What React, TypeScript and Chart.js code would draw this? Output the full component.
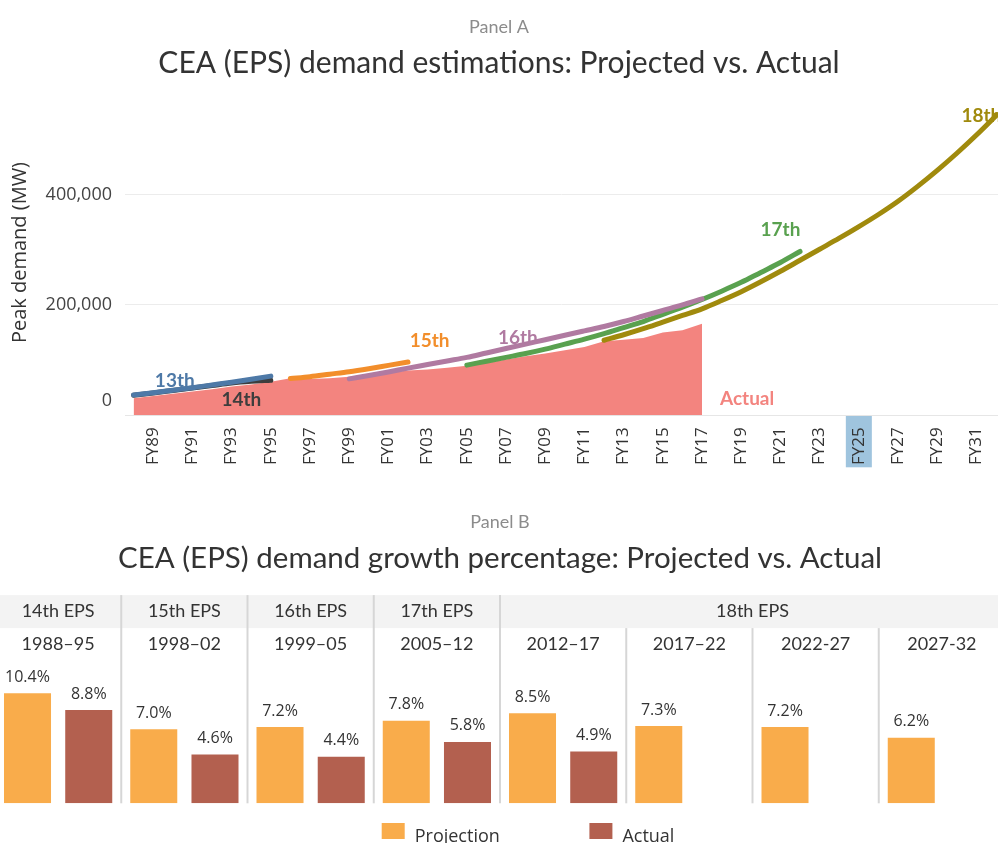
import React, { useEffect, useRef } from 'react';
import { Chart, registerables } from 'chart.js';

Chart.register(...registerables);

// ---------------- Panel A data (peak demand, MW) ----------------
const actualStartYear = 1988;
const actualPeakMW = [
  31000, 35000, 39000, 43000, 47000, 52000, 56000, 61000, 67000, 66000,
  67000, 70000, 73000, 77000, 81000, 83000, 86000, 90000, 95000, 101000,
  107000, 112000, 118000, 124000, 134000, 137000, 140000, 150000, 154000, 166000,
];
const eps13StartYear = 1988;
const eps13MW = [37000, 41000, 45500, 50000, 55000, 60000, 65500, 71000];
const eps14StartYear = 1988;
const eps14MW = [36500, 40500, 45000, 49500, 54000, 58500, 61500, 63500];
const eps15StartYear = 1996;
const eps15MW = [66500, 70000, 74500, 79000, 84500, 90500, 96500];
const eps16StartYear = 1999;
const eps16MW = [
  66000, 72000, 78500, 85500, 92000, 98500, 105000, 113000, 121000, 129000,
  137000, 145000, 153000, 161000, 170000, 180000, 190000, 200000, 211000,
];
const eps17StartYear = 2005;
const eps17MW = [
  91000, 98000, 105000, 112000, 120000, 129000, 138000, 148000, 159000, 170000,
  183000, 196000, 210000, 225000, 241000, 259000, 277000, 297000,
];
const eps18StartYear = 2012;
const eps18MW = [
  136000, 146000, 157000, 169000, 181000, 193000, 208000, 224000, 242000, 261000,
  281000, 301000, 321000, 342000, 364000, 388000, 415000, 444000, 475000, 508000, 543000,
];

const xTickYears = [
  1989, 1991, 1993, 1995, 1997, 1999, 2001, 2003, 2005, 2007, 2009,
  2011, 2013, 2015, 2017, 2019, 2021, 2023, 2025, 2027, 2029, 2031,
];
const highlightedYear = 2025;
const yTickValues = [0, 200000, 400000];

const seriesLabels = ['13th', '14th', '15th', '16th', '17th', '18th', 'Actual'];
const seriesLabelYears = [1990.1, 1993.5, 2003.1, 2007.6, 2021.0, 2031.25, 2019.3];
const seriesLabelValues = [62000, 27500, 134000, 140000, 336000, 543000, 29000];
const seriesColors = ['#4e79a7', '#3d3d3d', '#f28e2b', '#b07aa1', '#59a14f', '#a08a0d', '#f3847f'];

// ---------------- Panel B data (growth %, CAGR) ----------------
const periods = ['1988–95', '1998–02', '1999–05', '2005–12', '2012–17', '2017–22', '2022-27', '2027-32'];
const epsGroups = ['14th EPS', '15th EPS', '16th EPS', '17th EPS', '18th EPS'];
const epsGroupSpans = [1, 1, 1, 1, 4];
const projectedGrowth = [10.4, 7.0, 7.2, 7.8, 8.5, 7.3, 7.2, 6.2];
const actualGrowth: (number | null)[] = [8.8, 4.6, 4.4, 5.8, 4.9, null, null, null];

const toPoints = (start: number, vals: number[]) => vals.map((v, i) => ({ x: start + i, y: v }));

const panelAPlugin = {
  id: 'panelAExtras',
  beforeDraw(chart: any) {
    const { ctx } = chart;
    const x = chart.scales.x;
    const px = x.getPixelForValue(highlightedYear);
    ctx.save();
    ctx.fillStyle = '#9fc4de';
    ctx.fillRect(px - 13, x.top, 26, 52);
    ctx.restore();
  },
  afterDatasetsDraw(chart: any) {
    const { ctx } = chart;
    const x = chart.scales.x;
    const y = chart.scales.y;
    ctx.save();
    ctx.font = 'bold 19px Lato';
    ctx.textAlign = 'center';
    ctx.textBaseline = 'middle';
    seriesLabels.forEach((t, i) => {
      ctx.fillStyle = seriesColors[i];
      ctx.fillText(t, x.getPixelForValue(seriesLabelYears[i]), y.getPixelForValue(seriesLabelValues[i]));
    });
    ctx.restore();
  },
  afterDraw(chart: any) {
    const { ctx, chartArea } = chart;
    const y = chart.scales.y;
    ctx.save();
    ctx.font = '18px "Open Sans"';
    ctx.fillStyle = '#444';
    ctx.textAlign = 'right';
    ctx.textBaseline = 'middle';
    yTickValues.forEach((v) => {
      const py = Math.min(y.getPixelForValue(v), chartArea.bottom - 14);
      ctx.fillText(v.toLocaleString('en-US'), chartArea.left - 13, py);
    });
    ctx.restore();
  },
};

const panelBPlugin = {
  id: 'panelBExtras',
  beforeDraw(chart: any) {
    const { ctx, chartArea, width } = chart;
    const x = chart.scales.x;
    const n = periods.length;
    const boundary = (i: number) => {
      if (i <= 0) return x.left;
      if (i >= n) return x.right;
      return (x.getPixelForValue(i - 1) + x.getPixelForValue(i)) / 2;
    };
    const rowH = 33;
    ctx.save();
    ctx.fillStyle = '#f3f3f3';
    ctx.fillRect(0, x.top, width, rowH);
    ctx.strokeStyle = '#d6d6d6';
    ctx.lineWidth = 2;
    ctx.font = '18px Lato';
    ctx.fillStyle = '#333';
    ctx.textAlign = 'center';
    ctx.textBaseline = 'middle';
    let col = 0;
    epsGroups.forEach((g, gi) => {
      const span = epsGroupSpans[gi];
      const l = boundary(col);
      const r = boundary(col + span);
      ctx.fillText(g, (l + r) / 2, x.top + rowH / 2);
      if (col > 0) {
        ctx.beginPath();
        ctx.moveTo(l, x.top);
        ctx.lineTo(l, chartArea.bottom);
        ctx.stroke();
      }
      for (let k = 1; k < span; k++) {
        const bx = boundary(col + k);
        ctx.beginPath();
        ctx.moveTo(bx, x.top + rowH);
        ctx.lineTo(bx, chartArea.bottom);
        ctx.stroke();
      }
      col += span;
    });
    ctx.restore();
  },
  afterDatasetsDraw(chart: any) {
    const { ctx } = chart;
    ctx.save();
    ctx.font = '16px "Open Sans"';
    ctx.fillStyle = '#333';
    ctx.textAlign = 'center';
    ctx.textBaseline = 'middle';
    chart.data.datasets.forEach((ds: any, di: number) => {
      const meta = chart.getDatasetMeta(di);
      meta.data.forEach((el: any, i: number) => {
        const v = ds.data[i];
        if (v === null || v === undefined) return;
        ctx.fillText(v.toFixed(1) + '%', el.x, el.y - 16);
      });
    });
    ctx.restore();
  },
  afterDraw(chart: any) {
    const { ctx } = chart;
    ctx.save();
    ctx.font = '18px "Open Sans"';
    ctx.textAlign = 'left';
    ctx.textBaseline = 'alphabetic';
    let lx = 386.7;
    const base = 342;
    chart.data.datasets.forEach((ds: any) => {
      ctx.fillStyle = ds.backgroundColor;
      ctx.fillRect(lx, 323, 23, 16);
      ctx.fillStyle = '#333';
      ctx.fillText(ds.label, lx + 33, base);
      lx += 33 + ctx.measureText(ds.label).width + 89.6;
    });
    ctx.restore();
  },
};

function PanelA() {
  const ref = useRef<HTMLCanvasElement | null>(null);
  useEffect(() => {
    if (!ref.current) return;
    const line = (label: string, start: number, vals: number[], color: string, order: number) => ({
      label,
      data: toPoints(start, vals),
      borderColor: color,
      backgroundColor: color,
      borderWidth: 5,
      borderCapStyle: 'round',
      borderJoinStyle: 'round',
      pointRadius: 0,
      fill: false,
      tension: 0.3,
      cubicInterpolationMode: 'monotone',
      order,
    });
    const chart = new Chart(ref.current, {
      type: 'line',
      data: {
        datasets: [
          line('13th', eps13StartYear, eps13MW, seriesColors[0], 1),
          line('14th', eps14StartYear, eps14MW, seriesColors[1], 2),
          line('15th', eps15StartYear, eps15MW, seriesColors[2], 1),
          line('16th', eps16StartYear, eps16MW, seriesColors[3], 2),
          line('17th', eps17StartYear, eps17MW, seriesColors[4], 3),
          line('18th', eps18StartYear, eps18MW, seriesColors[5], 4),
          {
            label: 'Actual',
            data: toPoints(actualStartYear, actualPeakMW),
            borderWidth: 0,
            borderColor: 'rgba(0,0,0,0)',
            backgroundColor: '#f3847f',
            pointRadius: 0,
            fill: 'origin',
            tension: 0,
            order: 10,
          },
        ] as any,
      },
      options: {
        responsive: false,
        animation: false,
        plugins: {
          legend: { display: false },
          tooltip: { enabled: false },
          title: {
            display: true,
            text: 'Panel A',
            color: '#8c8c8c',
            font: { family: 'Lato', size: 18, weight: 'normal' },
            padding: { top: 16.2, bottom: 0 },
          },
          subtitle: {
            display: true,
            text: 'CEA (EPS) demand estimations: Projected vs. Actual',
            color: '#333',
            font: { family: 'Lato', size: 30, weight: 'normal' },
            padding: { top: 7.2, bottom: 8.8 },
          },
        },
        scales: {
          x: {
            type: 'linear',
            min: 1987.56,
            max: 2032.1,
            afterBuildTicks: (s: any) => {
              s.ticks = xTickYears.map((v) => ({ value: v }));
            },
            afterFit: (s: any) => {
              s.height = 84.7;
              s.paddingLeft = 0;
              s.paddingRight = 0;
            },
            ticks: {
              autoSkip: false,
              minRotation: 90,
              maxRotation: 90,
              padding: 12,
              color: '#333',
              font: { family: 'Open Sans', size: 17 },
              callback: (v: any) => 'FY' + String(Number(v) % 100).padStart(2, '0'),
            },
            grid: { display: false, drawTicks: false },
            border: { display: true, color: '#e6e6e6', width: 1 },
          },
          y: {
            min: 0,
            max: 590000,
            afterBuildTicks: (s: any) => {
              s.ticks = yTickValues.map((v) => ({ value: v }));
            },
            afterFit: (s: any) => {
              s.width = 125;
              s.paddingTop = 0;
              s.paddingBottom = 0;
            },
            ticks: { display: false },
            grid: { color: '#ececec', drawTicks: false },
            border: { display: false },
            title: {
              display: true,
              text: 'Peak demand (MW)',
              color: '#333',
              font: { family: 'Open Sans', size: 20 },
              padding: { top: 8, bottom: 0 },
            },
          },
        },
      } as any,
      plugins: [panelAPlugin],
    });
    return () => chart.destroy();
  }, []);
  return <canvas ref={ref} width={998} height={500} style={{ position: 'absolute', left: 0, top: 0 }} />;
}

function PanelB() {
  const ref = useRef<HTMLCanvasElement | null>(null);
  useEffect(() => {
    if (!ref.current) return;
    const chart = new Chart(ref.current, {
      type: 'bar',
      data: {
        labels: periods,
        datasets: [
          {
            label: 'Projection',
            data: projectedGrowth,
            backgroundColor: '#f9ac4b',
            categoryPercentage: 0.97,
            barPercentage: 0.768,
          },
          {
            label: 'Actual',
            data: actualGrowth,
            backgroundColor: '#b3604f',
            categoryPercentage: 0.97,
            barPercentage: 0.768,
          },
        ] as any,
      },
      options: {
        responsive: false,
        animation: false,
        layout: { padding: { bottom: 39.7 } },
        plugins: {
          legend: { display: false },
          tooltip: { enabled: false },
          title: {
            display: true,
            text: 'Panel B',
            color: '#8c8c8c',
            font: { family: 'Lato', size: 18, weight: 'normal' },
            padding: { top: 11.2, bottom: 0 },
          },
          subtitle: {
            display: true,
            text: 'CEA (EPS) demand growth percentage: Projected vs. Actual',
            color: '#333',
            font: { family: 'Lato', size: 29.5, weight: 'normal' },
            padding: { top: 7.5, bottom: 19.4 },
          },
        },
        scales: {
          x: {
            position: 'top',
            afterFit: (s: any) => {
              s.height = 66;
            },
            grid: { display: false, drawTicks: false },
            border: { display: false },
            ticks: {
              padding: 6.2,
              color: '#333',
              font: { family: 'Lato', size: 18 },
            },
          },
          y: { display: false, min: 0, max: 13.43 },
        },
      } as any,
      plugins: [panelBPlugin],
    });
    return () => chart.destroy();
  }, []);
  return <canvas ref={ref} width={1010} height={343} style={{ position: 'absolute', left: -5, top: 500 }} />;
}

export default function App() {
  return (
    <div
      style={{
        position: 'fixed',
        left: 0,
        top: 0,
        width: 998,
        height: 843,
        overflow: 'hidden',
        background: '#fff',
      }}
    >
      <PanelA />
      <PanelB />
    </div>
  );
}
